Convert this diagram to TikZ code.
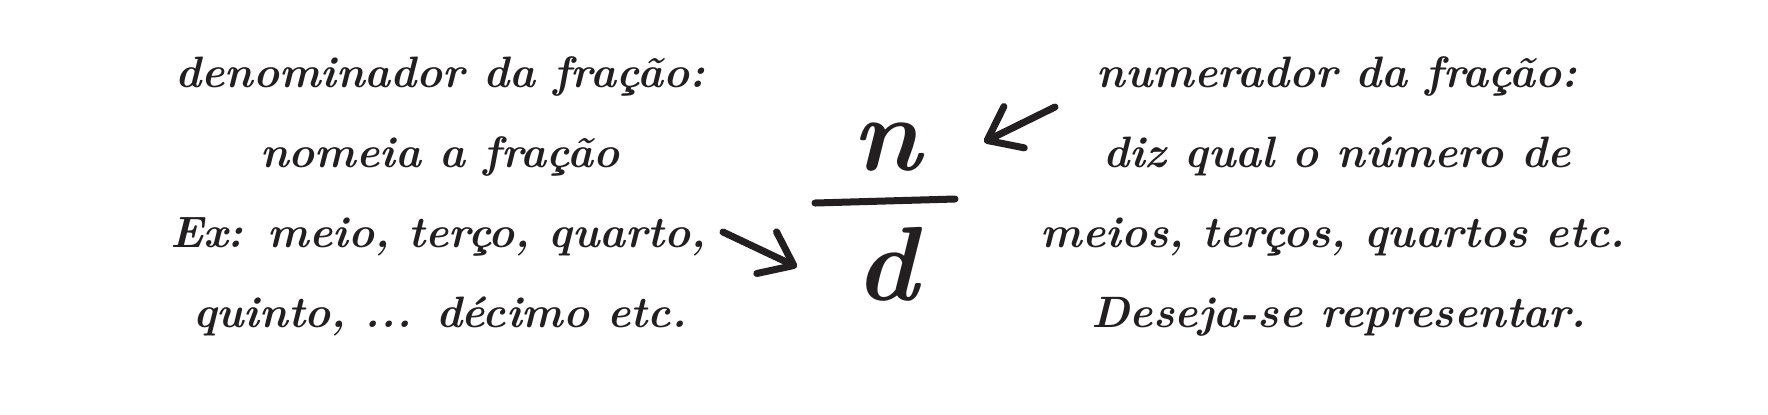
\documentclass[tikz,border=0pt]{standalone}
\usetikzlibrary{arrows.meta}
\definecolor{ink}{HTML}{231F20}
\begin{document}
\begin{tikzpicture}[x=0.01cm,y=-0.01cm,
  txt/.style={anchor=base,inner sep=0pt,text=ink,font=\fontsize{12.5}{15}\selectfont\bfseries\itshape},
  big/.style={anchor=base,inner sep=0pt,text=ink,font=\fontsize{30}{32}\selectfont\bfseries\itshape},
  pen/.style={draw=ink,line width=0.7mm,line cap=round,line join=round},
  arr/.style={pen,-{Straight Barb[length=3mm,width=4.6mm,round]}}]
\useasboundingbox[fill=white] (0,0) rectangle (1768,414);
% left block
\node[txt] (l1) at (440,87) {denominador da fração:};
\node[txt] (l2) at (440,167) {nomeia a fração};
\node[txt] (l3) at (438,247) {Ex: meio, terço, quarto,};
\node[txt] (l4) at (440,327) {quinto, ... décimo etc.};
% right block
\node[txt] (r1) at (1337,87) {numerador da fração:};
\node[txt] (r2) at (1337,167) {diz qual o número de};
\node[txt] (r3) at (1333,247) {meios, terços, quartos etc.};
\node[txt] (r4) at (1339,327) {Deseja-se representar.};
% fraction
\node[big] (n) at (887,170) {n};
\node[big] (d) at (887,300) {d};
\coordinate (barL) at (815,203);
\coordinate (barR) at (955,199);
\draw[pen] (barL) -- (barR);
% arrows
\coordinate (ra) at (1055,107);
\coordinate (rb) at (984,142);
\draw[arr] (ra) -- (rb);
\coordinate (la) at (723,232);
\coordinate (lb) at (797,267);
\draw[arr] (la) -- (lb);
\end{tikzpicture}
\end{document}
